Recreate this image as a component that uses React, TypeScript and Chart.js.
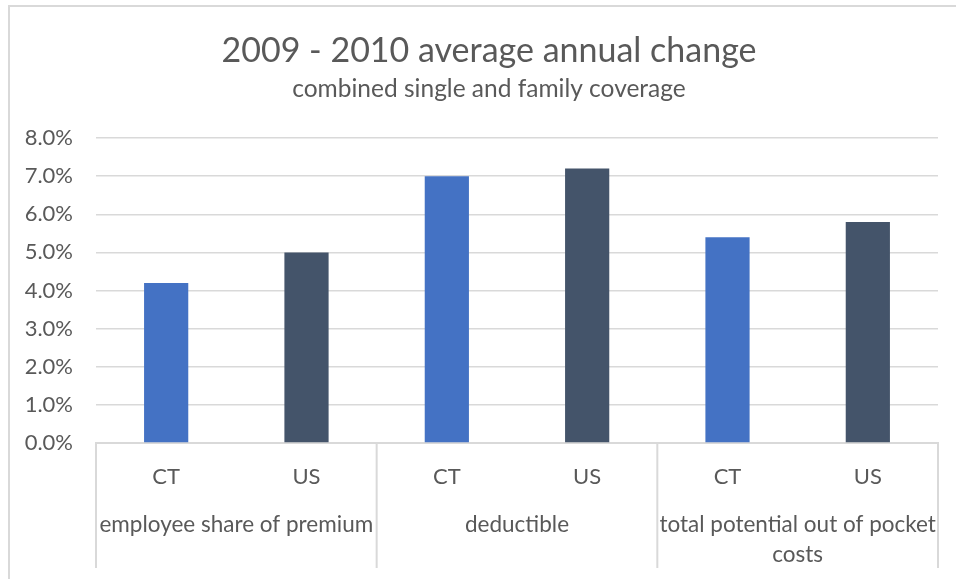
import React, { useEffect, useRef } from "react";
import { Chart, registerables } from "chart.js";

Chart.register(...registerables);

// ---- data ----
const groupLabels: (string | string[])[] = [
  "employee share of premium",
  "deductible",
  ["total potential out of pocket", "costs"],
];
const regionLabels = ["CT", "US"];
const ctValues = [4.2, 7.0, 5.4];
const usValues = [5.0, 7.2, 5.8];
const yTickValues = [0, 1, 2, 3, 4, 5, 6, 7, 8];
const titleText = "2009 - 2010 average annual change";
const subtitleText = "combined single and family coverage";

const CT_COLOR = "#4472C4";
const US_COLOR = "#44546A";
const TEXT_COLOR = "#595959";
const GRID_COLOR = "#D9D9D9";
const FONT = "Lato, 'Open Sans', sans-serif";

export default function App() {
  const canvasRef = useRef<HTMLCanvasElement | null>(null);

  useEffect(() => {
    const canvas = canvasRef.current;
    if (!canvas) return;

    const labels: string[] = [];
    const values: number[] = [];
    const colors: string[] = [];
    for (let g = 0; g < groupLabels.length; g++) {
      labels.push(regionLabels[0]);
      values.push(ctValues[g]);
      colors.push(CT_COLOR);
      labels.push(regionLabels[1]);
      values.push(usValues[g]);
      colors.push(US_COLOR);
    }

    const separators = {
      id: "separators",
      afterDraw(chart: any) {
        const x = chart.scales.x;
        const ctx = chart.ctx;
        const top = chart.chartArea.bottom;
        const end = top + 125;
        const xs: number[] = [x.left];
        for (let g = 1; g < groupLabels.length; g++) {
          const i = g * 2;
          xs.push((x.getPixelForValue(i - 1) + x.getPixelForValue(i)) / 2);
        }
        xs.push(x.right);
        ctx.save();
        ctx.strokeStyle = GRID_COLOR;
        ctx.lineWidth = 2;
        xs.forEach((px) => {
          ctx.beginPath();
          ctx.moveTo(px, top);
          ctx.lineTo(px, end);
          ctx.stroke();
        });
        ctx.restore();
      },
    };

    // Title block centred within the chart's frame (frame starts at x=8)
    const titles = {
      id: "titles",
      afterDraw(chart: any) {
        const ctx = chart.ctx;
        const cx = (22 + chart.width) / 2;
        ctx.save();
        ctx.fillStyle = TEXT_COLOR;
        ctx.textAlign = "center";
        ctx.textBaseline = "middle";
        ctx.font = `normal 34px ${FONT}`;
        ctx.fillText(titleText, cx, 51);
        ctx.font = `normal 24.5px ${FONT}`;
        ctx.fillText(subtitleText, cx, 89);
        ctx.restore();
      },
    };

    const chart = new Chart(canvas, {
      type: "bar",
      data: {
        labels,
        datasets: [
          {
            data: values,
            backgroundColor: colors,
            borderWidth: 0,
            categoryPercentage: 1,
            barPercentage: 0.315,
          },
        ],
      },
      options: {
        responsive: false,
        animation: false,
        layout: { padding: { left: 0, right: 18, top: 138, bottom: 0 } },
        plugins: {
          legend: { display: false },
          tooltip: { enabled: false },
          title: { display: false },
        },
        scales: {
          x: {
            type: "category",
            position: "bottom",
            weight: 0,
            offset: true,
            grid: { display: false, drawTicks: false },
            border: { display: true, color: GRID_COLOR, width: 2 },
            ticks: {
              color: TEXT_COLOR,
              font: { family: FONT, size: 22, lineHeight: 1.2 },
              padding: 21,
              maxRotation: 0,
              autoSkip: false,
            },
            afterFit: (s: any) => {
              s.height = 60;
            },
          },
          x2: {
            type: "category",
            position: "bottom",
            weight: 1,
            labels: groupLabels as any,
            offset: true,
            grid: { display: false, drawTicks: false },
            border: { display: false },
            ticks: {
              color: TEXT_COLOR,
              font: { family: FONT, size: 22.5, lineHeight: 1.33 },
              padding: 7,
              maxRotation: 0,
              autoSkip: false,
            },
            afterFit: (s: any) => {
              s.height = 76;
            },
          },
          y: {
            min: 0,
            max: 8,
            grid: { color: GRID_COLOR, lineWidth: 1.5, drawTicks: false },
            border: { display: false },
            afterBuildTicks: (s: any) => {
              s.ticks = yTickValues.map((v) => ({ value: v }));
            },
            ticks: {
              color: TEXT_COLOR,
              font: { family: FONT, size: 22 },
              padding: 23,
              callback: (v: any) => Number(v).toFixed(1) + "%",
            },
            afterFit: (s: any) => {
              s.width = 96;
            },
          },
        },
      },
      plugins: [separators, titles],
    });

    return () => chart.destroy();
  }, []);

  return (
    <div
      style={{
        position: "fixed",
        left: 0,
        top: 0,
        width: 956,
        height: 579,
        overflow: "hidden",
        background: "#ffffff",
      }}
    >
      <div
        style={{
          position: "absolute",
          left: 8,
          top: 5,
          width: 1000,
          height: 700,
          borderTop: `2px solid ${GRID_COLOR}`,
          borderLeft: `2px solid ${GRID_COLOR}`,
        }}
      />
      <canvas
        ref={canvasRef}
        width={956}
        height={579}
        style={{ position: "absolute", left: 0, top: 0 }}
      />
    </div>
  );
}
